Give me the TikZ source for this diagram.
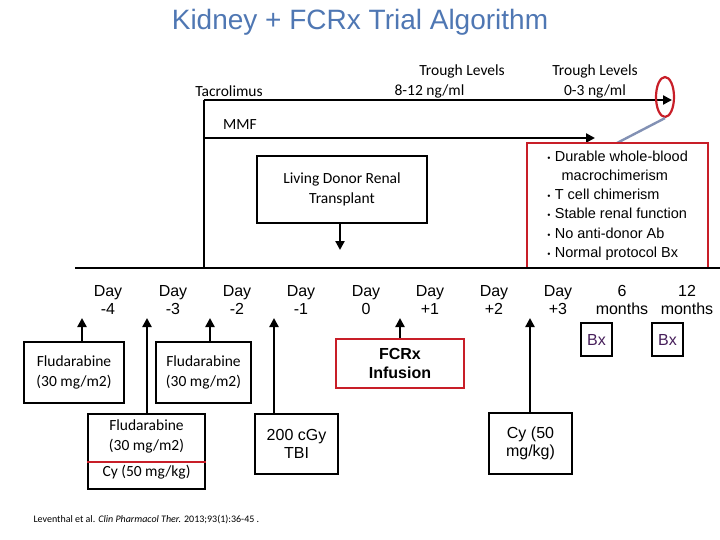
\documentclass[tikz,border=0pt]{standalone}
\usepackage{fontspec}
\setmainfont{Liberation Sans}
\newfontfamily\calfont{Carlito}
\usetikzlibrary{arrows.meta,shapes.geometric}
\definecolor{myred}{RGB}{200,30,40}
\definecolor{titleblue}{RGB}{79,119,179}
\definecolor{linkgray}{RGB}{130,145,180}
\definecolor{bxpurple}{RGB}{70,30,90}
\begin{document}
\begin{tikzpicture}[x=1pt,y=-1pt,
  box/.style={draw,line width=2.2pt,inner sep=0pt},
  arr/.style={line width=2.6pt,-{Triangle[length=9pt,width=9pt]}},
  day/.style={font=\fontsize{16}{18}\selectfont,align=center},
  ctext/.style={font=\calfont\fontsize{15.5}{20}\selectfont,align=center}]
\useasboundingbox (0,0) rectangle (720,540);
\node[font=\fontsize{28}{30}\selectfont,text=titleblue] (title) at (360,22) {Kidney + FCRx Trial Algorithm};
% top lines
\coordinate (vtop) at (204,100); \coordinate (vbot) at (204,268);
\draw[line width=2.6pt] (vtop) -- (vbot);
\coordinate (tacE) at (672,100); \coordinate (mmfS) at (204,138); \coordinate (mmfE) at (595,138);
\draw[arr] (vtop) -- (tacE);
\draw[arr] (mmfS) -- (mmfE);
\node[ctext] (tac) at (229,91) {Tacrolimus};
\node[ctext] (mmf) at (240,125) {MMF};
\node[ctext,align=center] (tl1) at (445,81) {\hspace*{2.2em}Trough Levels\\8-12 ng/ml\hspace*{2em}};
\node[ctext,align=center] (tl2) at (595,81) {Trough Levels\\0-3 ng/ml};
\node[draw=myred,line width=2.2pt,ellipse,minimum width=18pt,minimum height=40pt,inner sep=0pt] (ell) at (665,97) {};
\draw[line width=2.4pt,color=linkgray] (617,143) -- (ell.south);
% transplant
\node[box,minimum width=170pt,minimum height=67pt,ctext] (ldrt) at (342,189.5) {Living Donor Renal\\Transplant};
\coordinate (ldrtA) at (340,250);
\draw[arr] (ldrt.south -| ldrtA) -- (ldrtA);
% outcomes
\node[draw=myred,line width=2pt,minimum width=181pt,minimum height=125pt,font=\fontsize{14.5}{19.2}\selectfont,align=left,inner sep=2pt] (out) at (617.5,205.5) {\raisebox{2pt}{\tiny$\bullet$} Durable whole-blood\\\quad macrochimerism\\\raisebox{2pt}{\tiny$\bullet$} T cell chimerism\\\raisebox{2pt}{\tiny$\bullet$} Stable renal function\\\raisebox{2pt}{\tiny$\bullet$} No anti-donor Ab\\\raisebox{2pt}{\tiny$\bullet$} Normal protocol Bx};
% timeline
\coordinate (tl0) at (75,268); \coordinate (tl1e) at (720,268);
\draw[line width=2.6pt] (tl0) -- (tl1e);
% days
\foreach \x/\a/\b/\n in {108/Day/-4/d1,173/Day/-3/d2,237/Day/-2/d3,301/Day/-1/d4,366/Day/0/d5,430/Day/+1/d6,494/Day/+2/d7,558/Day/+3/d8,622/6/months/d9,687/12/months/d10}
  \node[day] (\n) at (\x,300) {\a\\\b};
% boxes
\node[box,ctext,minimum width=100pt,minimum height=61pt] (f1) at (74,372.5) {Fludarabine\\(30 mg/m2)};
\node[box,ctext,minimum width=117pt,minimum height=75pt] (f2) at (146.5,451.5) {};
\node[ctext] (f2a) at (146.5,436) {Fludarabine\\(30 mg/m2)};
\node[ctext] (f2b) at (146.5,472) {Cy (50 mg/kg)};
\draw[line width=2pt,color=myred] (f2.west |- 0,462) -- (f2.east |- 0,462);
\node[box,ctext,minimum width=95pt,minimum height=61pt] (f3) at (203.5,372.5) {Fludarabine\\(30 mg/m2)};
\node[box,day,minimum width=83pt,minimum height=60pt] (tbi) at (296.5,444) {200 cGy\\TBI};
\node[draw=myred,line width=2.4pt,minimum width=128pt,minimum height=49pt,font=\bfseries\fontsize{16}{19}\selectfont,align=center,inner sep=0pt] (fcrx) at (400,363.5) {FCRx\\Infusion};
\node[box,day,minimum width=83pt,minimum height=61pt] (cy) at (530.5,443.5) {Cy (50\\mg/kg)};
\node[box,day,text=bxpurple,minimum width=31pt,minimum height=33pt,line width=1.6pt] (bx1) at (596.5,339.5) {Bx};
\node[box,day,text=bxpurple,minimum width=31pt,minimum height=33pt,line width=1.6pt] (bx2) at (667.5,339.5) {Bx};
% arrows up
\foreach \n/\x in {f1/82,f2/147,f3/210,tbi/274,fcrx/400,cy/530}{
  \coordinate (\n top) at (\x,318);
  \draw[arr] (\n.north -| \n top) -- (\n top);
}
\node[font=\calfont\fontsize{10}{11}\selectfont,anchor=west] (cite) at (30,520) {Leventhal et al. \textit{Clin Pharmacol Ther.} 2013;93(1):36-45 .};
\end{tikzpicture}
\end{document}
